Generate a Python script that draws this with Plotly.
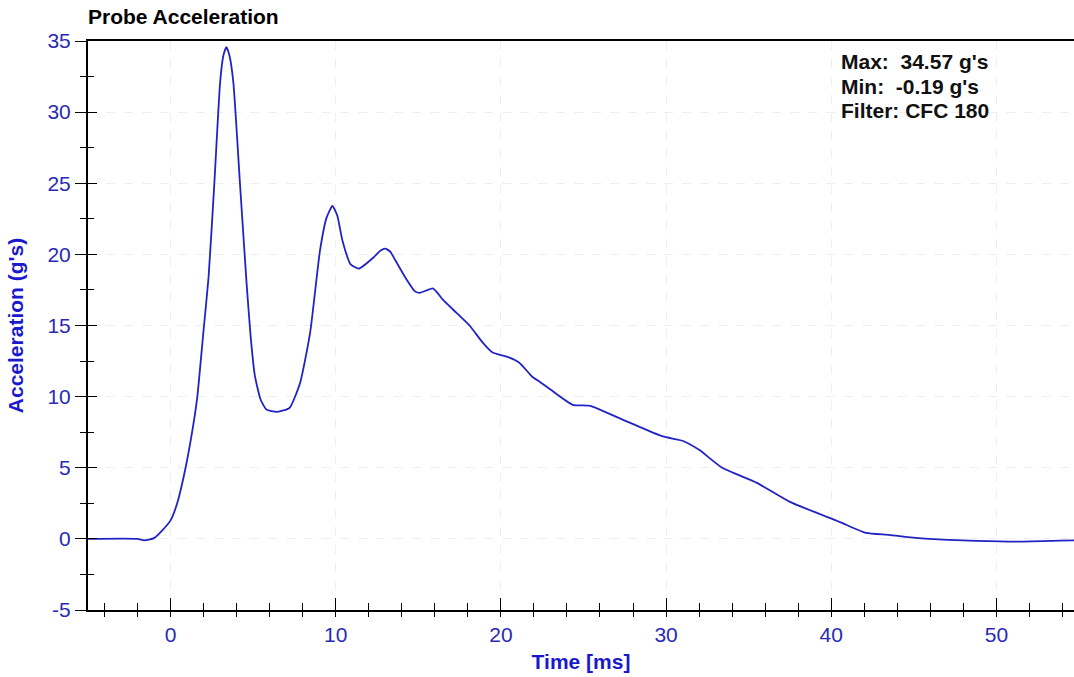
import plotly.graph_objects as go

time_ms = [-5, -2, -1.6, -1.0, -0.5, 0, 0.4, 0.8, 1.2, 1.6, 2.0, 2.3, 2.65, 3.0, 3.2, 3.38,
           3.56, 3.8, 4.2, 4.6, 4.85, 5.1, 5.45, 5.8, 6.45, 7.2, 7.85, 8.45, 9.05, 9.45, 9.8,
           10.1, 10.4, 10.9, 11.4, 12.3, 12.7, 13.0, 13.3, 13.6, 14.2, 14.8, 15.1, 15.9,
           16.5, 17.3, 18.1, 18.9, 19.5, 20.4, 21.1, 21.9, 22.4, 23.0, 24.35, 25.4, 27.4,
           29.8, 31.0, 32.0, 33.4, 35.5, 37.5, 40.5, 42.1, 43.5, 45.1, 47.1, 48.8, 51.2,
           53.8, 54.7]
accel_g = [0, 0, -0.1, 0.05, 0.6, 1.3, 2.5, 4.4, 6.8, 9.8, 14.7, 18.4, 25.0, 32.1, 34.0,
           34.57, 34.0, 32.1, 25.0, 18.0, 14.2, 11.5, 9.8, 9.1, 8.93, 9.2, 11.0, 14.5, 20.3,
           22.6, 23.4, 22.7, 21.0, 19.3, 19.0, 19.8, 20.25, 20.4, 20.2, 19.6, 18.4, 17.4,
           17.3, 17.6, 16.8, 15.9, 15.0, 13.8, 13.1, 12.8, 12.4, 11.4, 11.0, 10.5, 9.42,
           9.35, 8.37, 7.2, 6.9, 6.26, 5.0, 3.94, 2.6, 1.2, 0.42, 0.28, 0.07, -0.07, -0.14,
           -0.19, -0.12, -0.1]

x_range = [-5, 54.7]
y_range = [-5, 35]
x_tickvals = [0, 10, 20, 30, 40, 50]
y_tickvals = [-5, 0, 5, 10, 15, 20, 25, 30, 35]
y_ticktext = ["-5", "0", "5", "10", "15", "20", "25", "30", "35"]
title_text = "Probe Acceleration"
x_title = "Time [ms]"
y_title = "Acceleration (g's)"
stats_lines = ["Max:  34.57 g's", "Min:  -0.19 g's", "Filter: CFC 180"]

FONT = "Arial, Liberation Sans, sans-serif"
TICK_BLUE = "#2a2ab4"
TITLE_BLUE = "#1a1acc"
LINE_BLUE = "#2323c4"
GRID = "#efefef"
FS = 21

W, H = 1074, 677
L, R, T, B = 88, 0, 41, 67
PW, PH = W - L - R, H - T - B

fig = go.Figure()
fig.add_trace(go.Scatter(x=time_ms, y=accel_g, mode="lines",
                         line=dict(color=LINE_BLUE, width=1.8, shape="spline", smoothing=0.5),
                         showlegend=False, hoverinfo="x+y"))
# helper trace so the overlay axes (used for crossing tick marks) are drawn
fig.add_trace(go.Scatter(x=[None], y=[None], xaxis="x2", yaxis="y2",
                         showlegend=False, hoverinfo="skip"))

fig.update_layout(
    width=W, height=H,
    margin=dict(l=L, r=R, t=T, b=B),
    paper_bgcolor="white", plot_bgcolor="white",
    title=dict(text="<b>" + title_text + "</b>", x=L/W, xanchor="left",
               y=1 - 17/H, yanchor="middle",
               font=dict(family=FONT, size=FS, color="black")),
    xaxis=dict(range=x_range, tickmode="array", tickvals=x_tickvals,
               showgrid=True, gridcolor=GRID,
               griddash="dash", gridwidth=1, zeroline=False, automargin=False,
               showline=True, linecolor="black", linewidth=2, mirror=True,
               ticks="outside", ticklen=5, tickcolor="black", tickwidth=1,
               minor=dict(dtick=2, tick0=0, ticks="outside", ticklen=5,
                          tickcolor="black", tickwidth=1, showgrid=False),
               tickfont=dict(family=FONT, size=FS, color=TICK_BLUE),
               title=dict(text="<b>" + x_title + "</b>", standoff=9,
                          font=dict(family=FONT, size=FS, color=TITLE_BLUE))),
    yaxis=dict(range=y_range, tickmode="array", tickvals=y_tickvals, ticktext=y_ticktext,
               showgrid=True, gridcolor=GRID,
               griddash="dash", gridwidth=1, zeroline=False, automargin=False,
               showline=True, linecolor="black", linewidth=2,
               ticks="outside", ticklen=11, tickcolor="black", tickwidth=1,
               minor=dict(dtick=2.5, tick0=0, ticks="outside", ticklen=6,
                          tickcolor="black", tickwidth=1, showgrid=False),
               tickfont=dict(family=FONT, size=FS, color=TICK_BLUE),
               title=dict(text="<b>" + y_title + "</b>", standoff=18,
                          font=dict(family=FONT, size=FS, color=TITLE_BLUE))),
    xaxis2=dict(range=x_range, overlaying="x", side="bottom", anchor="y2",
                dtick=10, tick0=0, showgrid=False, zeroline=False, showticklabels=False,
                ticks="inside", ticklen=12, tickcolor="black", tickwidth=1,
                minor=dict(dtick=2, tick0=0, ticks="inside", ticklen=7,
                           tickcolor="black", tickwidth=1, showgrid=False)),
    yaxis2=dict(range=y_range, overlaying="y", side="left", anchor="x2",
                dtick=5, tick0=0, showgrid=False, zeroline=False, showticklabels=False,
                ticks="inside", ticklen=9, tickcolor="black", tickwidth=1,
                minor=dict(dtick=2.5, tick0=0, ticks="inside", ticklen=6,
                           tickcolor="black", tickwidth=1, showgrid=False)),
)

line_centers_px = [62, 86, 110]
for txt, cy in zip(stats_lines, line_centers_px):
    fig.add_annotation(text="<b>" + txt + "</b>",
                       xref="paper", yref="paper", x=(839 - L) / PW, y=1 - (cy - T) / PH,
                       xanchor="left", yanchor="middle", align="left", showarrow=False,
                       font=dict(family=FONT, size=FS, color="#111111"))

fig.write_html("out.html", config={"displayModeBar": False},
               post_script="document.body.style.margin='0';document.body.style.overflow='hidden';")
